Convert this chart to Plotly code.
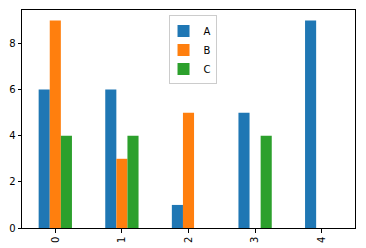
import plotly.graph_objects as go

categories = ["0", "1", "2", "3", "4"]
series_a = [6, 6, 1, 5, 9]
series_b = [9, 3, 5, 0, 0]
series_c = [4, 4, 0, 4, 0]
y_ticks = [0, 2, 4, 6, 8]

colors = {"A": "#1f77b4", "B": "#ff7f0e", "C": "#2ca02c"}

fig = go.Figure()
for name, vals in (("A", series_a), ("B", series_b), ("C", series_c)):
    fig.add_trace(go.Bar(x=list(range(len(categories))), y=vals, name=name,
                         marker=dict(color=colors[name], line=dict(width=0))))

fig.update_layout(
    width=366, height=248,
    margin=dict(l=22, r=11, t=10, b=20, autoexpand=False),
    paper_bgcolor="white", plot_bgcolor="white",
    barmode="group", bargap=0.5, bargroupgap=0,
    font=dict(family="DejaVu Sans", size=10, color="black"),
    showlegend=True,
    legend=dict(x=0.44, y=0.975, xanchor="left", yanchor="top",
                bordercolor="#cccccc", borderwidth=1, bgcolor="white",
                font=dict(size=10), tracegroupgap=0, itemwidth=30,
                indentation=-6),
    xaxis=dict(range=[-0.5, 4.5], tickmode="array",
               tickvals=list(range(len(categories))), ticktext=categories,
               tickangle=-90, ticks="outside", ticklen=3.5, tickcolor="black",
               showline=True, linecolor="black", linewidth=1, mirror=True,
               showgrid=False, zeroline=False, automargin=False),
    yaxis=dict(range=[0, 9.45], tickmode="array", tickvals=y_ticks,
               ticks="outside", ticklen=3.5, tickcolor="black",
               showline=True, linecolor="black", linewidth=1, mirror=True,
               showgrid=False, zeroline=False, automargin=False),
)

fig.write_html("out.html")
